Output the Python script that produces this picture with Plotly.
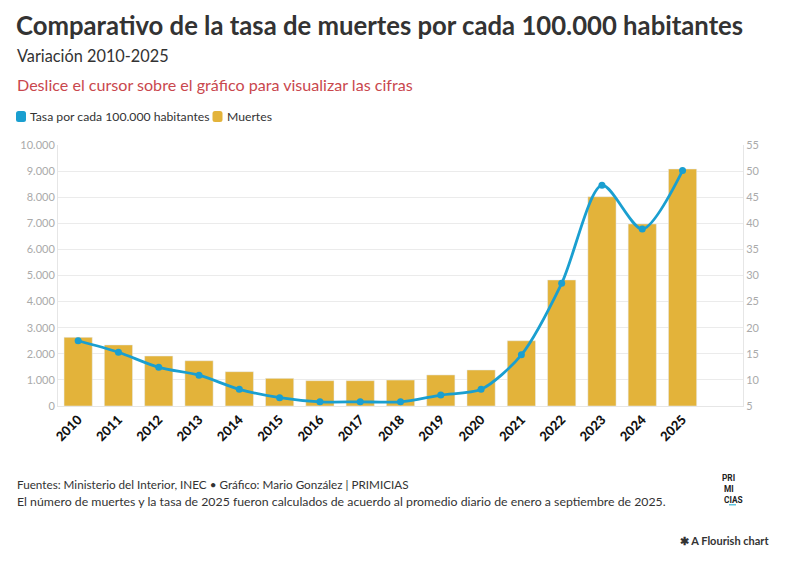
import plotly.graph_objects as go

years = [str(y) for y in range(2010, 2026)]
muertes = [2630, 2340, 1915, 1735, 1315, 1060, 970, 970, 995, 1190, 1380, 2500, 4830, 8020, 6975, 9080]
tasa = [17.5, 15.3, 12.4, 10.9, 8.2, 6.6, 5.8, 5.8, 5.8, 7.1, 8.2, 14.8, 28.5, 47.3, 38.9, 50.1]

BAR = "#e3b33a"
LINE = "#1a9fd0"
FONT = "Lato"

OFF = 8  # page body margin
W, H = 785 - OFF, 568 - OFF
# target plot area in window pixels: x 58..743, y 145..406
L = 58 - OFF
R = W - (743 - OFF)
T = 145 - OFF
B = H - (406 - OFF)
PH = H - T - B
PW = W - L - R


def py(ypx):
    return (H - B - (ypx - OFF)) / PH


def px(xpx):
    return (xpx - OFF - L) / PW


fig = go.Figure()
fig.add_trace(go.Bar(x=years, y=muertes, name="Muertes", marker_color=BAR,
                     showlegend=False, yaxis="y"))
fig.add_trace(go.Scatter(x=years, y=tasa, name="Tasa por cada 100.000 habitantes",
                         mode="lines+markers", line=dict(color=LINE, width=2.8, shape="spline", smoothing=0.8),
                         marker=dict(size=7, color=LINE), showlegend=False, yaxis="y2"))

ann = []
ann.append(dict(text="<b>Comparativo de la tasa de muertes por cada 100.000 habitantes</b>", x=px(15), y=py(25),
                borderpad=0, font=dict(size=25.7, color="#333333", family=FONT)))
ann.append(dict(text="Variación 2010-2025", x=px(15), y=py(55),
                font=dict(size=16.3, color="#333333", family=FONT)))
ann.append(dict(text="Deslice el cursor sobre el gráfico para visualizar las cifras", x=px(15), y=py(84),
                font=dict(size=16.1, color="#c9474d", family=FONT)))
ann.append(dict(text="Tasa por cada 100.000 habitantes", x=px(27.5), y=py(116.5),
                font=dict(size=12.2, color="#333333", family=FONT)))
ann.append(dict(text="Muertes", x=px(224.5), y=py(116.5),
                font=dict(size=12.2, color="#333333", family=FONT)))
ann.append(dict(text="Fuentes: Ministerio del Interior, INEC • Gráfico: Mario González | PRIMICIAS", x=px(15), y=py(484),
                font=dict(size=11.7, color="#333333", family=FONT)))
ann.append(dict(text="El número de muertes y la tasa de 2025 fueron calculados de acuerdo al promedio diario de enero a septiembre de 2025.",
                x=px(15), y=py(501), font=dict(size=12.3, color="#333333", family=FONT)))
ann.append(dict(text="<b>PRI<br>\u00a0MI<br>\u00a0CIAS</b>", x=px(721), y=py(489), align="left", borderpad=0,
                font=dict(size=8.3, color="#222222", family="Roboto")))
ann.append(dict(text="<b>✱ A Flourish chart</b>", x=px(771), y=py(540), xanchor="right",
                font=dict(size=11, color="#333333", family=FONT)))
for a in ann:
    a.setdefault("xanchor", "left")
    a.update(xref="paper", yref="paper", yanchor="middle", showarrow=False)


def rounded(x0, x1, y0, y1, r=2.5):
    # build rounded-rect path in paper coords (x0<x1 px, y0<y1 px, top-down)
    X = lambda v: px(v)
    Y = lambda v: py(v)
    return (f"M {X(x0 + r)},{Y(y0)} L {X(x1 - r)},{Y(y0)} Q {X(x1)},{Y(y0)} {X(x1)},{Y(y0 + r)} "
            f"L {X(x1)},{Y(y1 - r)} Q {X(x1)},{Y(y1)} {X(x1 - r)},{Y(y1)} L {X(x0 + r)},{Y(y1)} "
            f"Q {X(x0)},{Y(y1)} {X(x0)},{Y(y1 - r)} L {X(x0)},{Y(y0 + r)} Q {X(x0)},{Y(y0)} {X(x0 + r)},{Y(y0)} Z")


shapes = [
    dict(type="path", xref="paper", yref="paper", path=rounded(16, 26, 111, 122), fillcolor=LINE, line=dict(width=0)),
    dict(type="path", xref="paper", yref="paper", path=rounded(212.5, 222.5, 111, 122), fillcolor=BAR, line=dict(width=0)),
    dict(type="rect", xref="paper", yref="paper", x0=px(729), x1=px(736), y0=py(505.5), y1=py(504),
         fillcolor="#5fc3dc", line=dict(width=0)),
]

fig.update_layout(
    width=W, height=H,
    margin=dict(l=L, r=R, t=T, b=B),
    paper_bgcolor="white", plot_bgcolor="white",
    separators=",.",
    bargap=0.3,
    font=dict(family=FONT),
    annotations=ann,
    shapes=shapes,
    showlegend=False,
    xaxis=dict(range=[-0.5, 16.5], tickangle=-45, tickfont=dict(size=13, color="#111111", family=FONT + " Black"),
               showgrid=False, showline=True, linecolor="#e6e6e6", ticks="", fixedrange=True),
    yaxis=dict(range=[0, 10000], dtick=1000, tickformat=",d", gridcolor="#ebebeb", showline=True,
               linecolor="#e6e6e6", zeroline=False, tickfont=dict(size=11, color="#aaaaaa", family=FONT)),
    yaxis2=dict(range=[5, 55], dtick=5, overlaying="y", side="right", showgrid=False, showline=True,
                linecolor="#e6e6e6", zeroline=False, tickfont=dict(size=11, color="#aaaaaa", family=FONT)),
    hovermode="x unified",
)

fig.write_html("out.html")
